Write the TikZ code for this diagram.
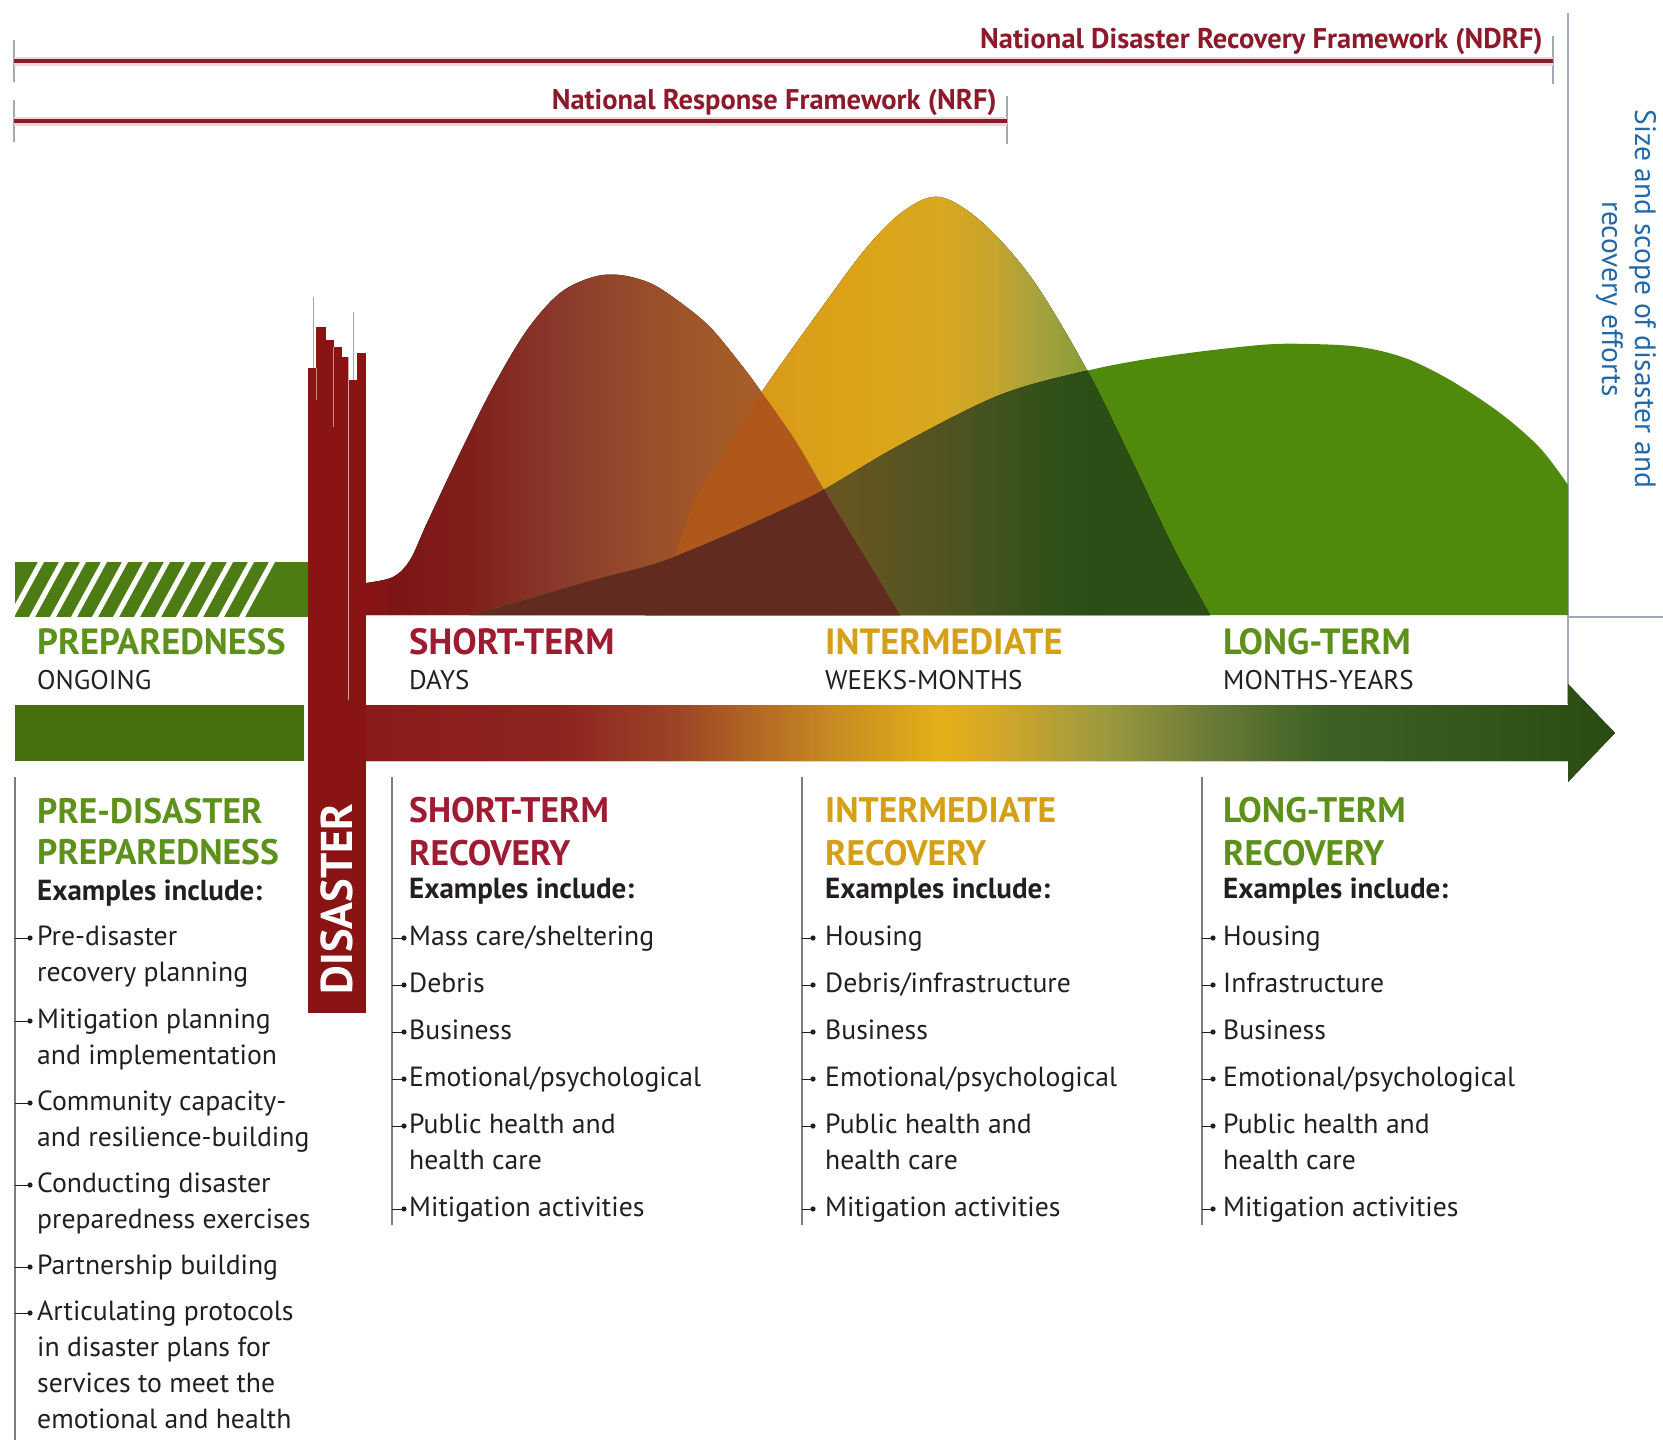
\documentclass[tikz,border=0pt]{standalone}
\usepackage{fontspec}
\setmainfont{PT Sans}
\usepackage{xcolor}
\usepackage{tikz}

% Colours
\definecolor{fwred}{RGB}{140,26,43}
\definecolor{framegray}{RGB}{160,170,182}
\definecolor{rulegray}{RGB}{125,125,125}
\definecolor{ink}{RGB}{35,31,32}
\definecolor{scopeblue}{RGB}{35,105,170}
\definecolor{prepgreen}{RGB}{94,145,28}
\definecolor{stred}{RGB}{158,27,50}
\definecolor{imgold}{RGB}{212,160,23}
\definecolor{hatchgreen}{RGB}{78,124,20}
\definecolor{bargreen}{RGB}{70,112,14}
\definecolor{disred}{RGB}{138,20,20}
\definecolor{greenfill}{RGB}{80,138,12}
\definecolor{orangemix}{RGB}{176,88,28}
\definecolor{brownmix}{RGB}{97,43,31}

% Shadings
\pgfdeclarehorizontalshading{redshade}{100bp}{color(0bp)=(disred); color(25bp)=(disred);
  color(28.2bp)=(rgb,255:red,124;green,22;blue,22); color(34.7bp)=(rgb,255:red,128;green,31;blue,26);
  color(43.2bp)=(rgb,255:red,138;green,58;blue,44); color(51.6bp)=(rgb,255:red,154;green,78;blue,42);
  color(58.1bp)=(rgb,255:red,164;green,90;blue,40); color(63.8bp)=(rgb,255:red,168;green,96;blue,38);
  color(75bp)=(rgb,255:red,168;green,96;blue,38); color(100bp)=(rgb,255:red,168;green,96;blue,38)}
\pgfdeclarehorizontalshading{goldshade}{100bp}{color(0bp)=(rgb,255:red,214;green,150;blue,26);
  color(29.9bp)=(rgb,255:red,214;green,150;blue,26); color(44bp)=(rgb,255:red,220;green,163;blue,24);
  color(51.1bp)=(rgb,255:red,216;green,168;blue,32); color(55.5bp)=(rgb,255:red,200;green,165;blue,44);
  color(60bp)=(rgb,255:red,164;green,162;blue,62); color(63.5bp)=(rgb,255:red,140;green,158;blue,54);
  color(75bp)=(rgb,255:red,106;green,138;blue,32); color(100bp)=(rgb,255:red,106;green,138;blue,32)}
\pgfdeclarehorizontalshading{oliveshade}{100bp}{color(0bp)=(rgb,255:red,94;green,58;blue,30);
  color(27.5bp)=(rgb,255:red,94;green,58;blue,30); color(41.4bp)=(rgb,255:red,106;green,85;blue,34);
  color(52.9bp)=(rgb,255:red,76;green,84;blue,32); color(60.8bp)=(rgb,255:red,48;green,80;blue,24);
  color(65.3bp)=(rgb,255:red,42;green,78;blue,22); color(100bp)=(rgb,255:red,42;green,78;blue,22)}
\pgfdeclarehorizontalshading{arrowshade}{100bp}{color(0bp)=(rgb,255:red,140;green,26;blue,26);
  color(25bp)=(rgb,255:red,140;green,26;blue,26); color(33.7bp)=(rgb,255:red,142;green,36;blue,32);
  color(37.95bp)=(rgb,255:red,154;green,66;blue,38); color(44.3bp)=(rgb,255:red,200;green,138;blue,34);
  color(48.6bp)=(rgb,255:red,228;green,176;blue,24); color(50.4bp)=(rgb,255:red,216;green,168;blue,40);
  color(54.95bp)=(rgb,255:red,156;green,154;blue,62); color(59.2bp)=(rgb,255:red,106;green,122;blue,56);
  color(63.45bp)=(rgb,255:red,62;green,98;blue,36); color(75bp)=(rgb,255:red,42;green,76;blue,20);
  color(100bp)=(rgb,255:red,42;green,76;blue,20)}

% Curves
\def\redcurve{(366,615) -- (366,583) -- plot[smooth, tension=0.55] coordinates {(366,583) (393,577) (410,560) (427,523) (460,453) (493,387) (527,330) (560,293) (593,277) (620,275) (650,283) (677,300) (710,327) (743,367) (760,390) (795,440) (830,500) (865,557) (900,615)} -- cycle}
\def\yellowcurve{(645,615) -- plot[smooth, tension=0.55] coordinates {(645,615) (673,560) (695,500) (727,447) (763,390) (820,310) (867,247) (905,210) (940,197) (983,223) (1033,280) (1087,370) (1133,463) (1173,547) (1210,615)} -- cycle}
\def\greencurve{(470,615) -- plot[smooth, tension=0.55] coordinates {(470,615) (510,604) (593,580) (660,562) (727,535) (793,505) (827,488) (900,445) (1000,395) (1090,370) (1167,356) (1260,345) (1310,344) (1360,347) (1405,358) (1450,380) (1500,413) (1540,448) (1568,485)} -- (1568,615) -- cycle}

\begin{document}
\begin{tikzpicture}[x=1pt, y=-1pt,
    fwline/.style={draw=fwred, line width=3.5pt, preaction={draw=fwred!18, line width=9pt}},
    fwtick/.style={draw=framegray, line width=1.5pt},
    fwlabel/.style={anchor=base east, inner sep=0pt, text=fwred, font=\fontsize{28.5}{32}\selectfont\bfseries},
    phase/.style={anchor=base west, inner sep=0pt, font=\fontsize{36.5}{40}\selectfont\bfseries},
    span/.style={anchor=base west, inner sep=0pt, text=ink, font=\fontsize{27}{30}\selectfont},
    colhead/.style={anchor=base west, inner sep=0pt, font=\fontsize{35.5}{40}\selectfont\bfseries},
    examples/.style={anchor=base west, inner sep=0pt, text=ink, font=\fontsize{29}{32}\selectfont\bfseries},
    item/.style={anchor=base west, inner sep=0pt, text=ink, font=\fontsize{27.7}{32}\selectfont},
    colline/.style={draw=rulegray, line width=2pt},
    tick/.style={draw=ink, line width=1pt}]
\useasboundingbox (0,0) rectangle (1663,1440);

% Framework spans
\coordinate (ndrf-l) at (14,61);
\coordinate (ndrf-r) at (1553,61);
\coordinate (nrf-l) at (14,121);
\coordinate (nrf-r) at (1007,121);
\draw[fwtick] (14,40) -- (14,82);
\draw[fwtick] (1553,36) -- (1553,84);
\draw[fwtick] (14,100) -- (14,142);
\draw[fwtick] (1007,96) -- (1007,144);
\draw[fwline] (ndrf-l) -- (ndrf-r);
\draw[fwline] (nrf-l) -- (nrf-r);
\node[fwlabel] (ndrf) at (1543,48) {National Disaster Recovery Framework (NDRF)};
\node[fwlabel] (nrf) at (997,109) {National Response Framework (NRF)};

% Scope box
\draw[framegray, line width=2pt] (1568,13) -- (1568,704);
\draw[framegray, line width=2pt] (1568,617) -- (1663,617);
\node[rotate=-90, align=center, text=scopeblue, font=\fontsize{29.5}{33}\selectfont] (scope) at (1626,299)
  {Size and scope of disaster and\\recovery efforts};

% Preparedness hatch
\fill[hatchgreen] (15,562) rectangle (308,617);
\begin{scope}
  \clip (15,562) rectangle (290,617);
  \foreach \i in {0,...,11}
    \fill[white] (8+21*\i,617) -- ++(6,0) -- ++(30,-55) -- ++(-6,0) -- cycle;
\end{scope}

% Recovery curves
\fill[shading=redshade] \redcurve;
\fill[shading=goldshade] \yellowcurve;
\begin{scope}
  \clip \redcurve;
  \fill[orangemix] \yellowcurve;
\end{scope}
\fill[greenfill] \greencurve;
\begin{scope}
  \clip \greencurve;
  \fill[shading=oliveshade] \yellowcurve;
  \fill[brownmix] \redcurve;
\end{scope}

% Time arrow
\fill[bargreen] (15,705) rectangle (304,761);
\fill[shading=arrowshade] (340,705) -- (1568,705) -- (1568,684) -- (1615,733)
  -- (1568,782) -- (1568,761) -- (340,761) -- cycle;

% Disaster bar
\draw[framegray, line width=1pt] (313,297) -- (313,370);
\draw[framegray, line width=1pt] (353,312) -- (353,382);
\foreach \xa/\xb/\ytop in {308/316/368, 316/326/327, 326/334/340, 334/342/347, 342/349/357, 349/357/380, 357/366/353}
  \fill[disred] (\xa,\ytop) rectangle (\xb,1013);
\draw[white, opacity=0.5, line width=0.8pt] (316.5,368) -- (316.5,400);
\draw[white, opacity=0.5, line width=0.8pt] (333.5,347) -- (333.5,427);
\draw[white, opacity=0.6, line width=1pt] (348.5,357) -- (348.5,700);
\node[rotate=90, text=white, font=\fontsize{44.5}{48}\selectfont\bfseries] (disaster) at (337,899) {DISASTER};

% Phase band
\node[phase, text=prepgreen] (prep) at (37,654) {PREPAREDNESS};
\node[span] (prep-t) at (37,689) {ONGOING};
\node[phase, text=stred] (short) at (409,654) {SHORT-TERM};
\node[span] (short-t) at (409,689) {DAYS};
\node[phase, text=imgold] (inter) at (825,654) {INTERMEDIATE};
\node[span] (inter-t) at (825,689) {WEEKS-MONTHS};
\node[phase, text=prepgreen] (long) at (1223,654) {LONG-TERM};
\node[span] (long-t) at (1223,689) {MONTHS-YEARS};

% Pre-disaster column
\draw[colline] (15,777) -- (15,1440);
\node[colhead, text=prepgreen] (pre-h1) at (37,823) {PRE-DISASTER};
\node[colhead, text=prepgreen] (pre-h2) at (37,864) {PREPAREDNESS};
\node[examples] (pre-ex) at (37,900) {Examples include:};
\foreach \y/\t/\b [count=\i] in {945/Pre-disaster/1, 981/recovery planning/0, 1028/Mitigation planning/1,
    1064/and implementation/0, 1110/Community capacity-/1, 1146/and resilience-building/0,
    1192/Conducting disaster/1, 1228/preparedness exercises/0, 1274/Partnership building/1,
    1320/Articulating protocols/1, 1356/in disaster plans for/0, 1392/services to meet the/0,
    1428/emotional and health/0} {
  \node[item] (pre-\i) at (37,\y) {\t};
  \ifnum\b=1
    \draw[tick] (15,\y-7) -- (30,\y-7);
    \fill[ink] (30,\y-7) circle (2.6);
  \fi
}

% Short-term column
\draw[colline] (392,777) -- (392,1225);
\node[colhead, text=stred] (st-h1) at (409,822) {SHORT-TERM};
\node[colhead, text=stred] (st-h2) at (409,865) {RECOVERY};
\node[examples] (st-ex) at (409,898) {Examples include:};
\foreach \y/\t/\b [count=\i] in {945/{Mass care/sheltering}/1, 992/Debris/1, 1039/Business/1,
    1086/{Emotional/psychological}/1, 1133/Public health and/1, 1169/health care/0,
    1216/Mitigation activities/1} {
  \node[item] (st-\i) at (409,\y) {\t};
  \ifnum\b=1
    \draw[tick] (392,\y-7) -- (404,\y-7);
    \fill[ink] (404,\y-7) circle (2.6);
  \fi
}

% Intermediate column
\draw[colline] (802,777) -- (802,1225);
\node[colhead, text=imgold] (im-h1) at (825,822) {INTERMEDIATE};
\node[colhead, text=imgold] (im-h2) at (825,865) {RECOVERY};
\node[examples] (im-ex) at (825,898) {Examples include:};
\foreach \y/\t/\b [count=\i] in {945/Housing/1, 992/{Debris/infrastructure}/1, 1039/Business/1,
    1086/{Emotional/psychological}/1, 1133/Public health and/1, 1169/health care/0,
    1216/Mitigation activities/1} {
  \node[item] (im-\i) at (825,\y) {\t};
  \ifnum\b=1
    \draw[tick] (802,\y-7) -- (813,\y-7);
    \fill[ink] (813,\y-7) circle (2.6);
  \fi
}

% Long-term column
\draw[colline] (1202,777) -- (1202,1225);
\node[colhead, text=prepgreen] (lt-h1) at (1223,822) {LONG-TERM};
\node[colhead, text=prepgreen] (lt-h2) at (1223,865) {RECOVERY};
\node[examples] (lt-ex) at (1223,898) {Examples include:};
\foreach \y/\t/\b [count=\i] in {945/Housing/1, 992/Infrastructure/1, 1039/Business/1,
    1086/{Emotional/psychological}/1, 1133/Public health and/1, 1169/health care/0,
    1216/Mitigation activities/1} {
  \node[item] (lt-\i) at (1223,\y) {\t};
  \ifnum\b=1
    \draw[tick] (1202,\y-7) -- (1213,\y-7);
    \fill[ink] (1213,\y-7) circle (2.6);
  \fi
}
\end{tikzpicture}
\end{document}
